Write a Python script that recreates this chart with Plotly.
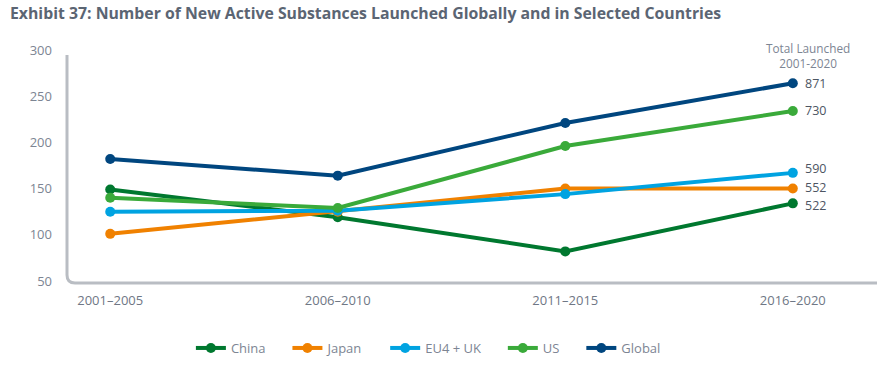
import plotly.graph_objects as go

periods = ["2001–2005", "2006–2010", "2011–2015", "2016–2020"]
series_names = ["China", "Japan", "EU4 + UK", "US", "Global"]
china = [149, 119, 82, 134]
japan = [101, 125, 150, 150]
eu4uk = [125, 126, 144, 167]
us = [140, 129, 196, 234]
global_ = [182, 164, 221, 264]
totals = ["522", "552", "590", "730", "871"]
colors = ["#00782f", "#f08100", "#00a3e1", "#3aaa3a", "#00467f"]

values = [china, japan, eu4uk, us, global_]
pad = "\u00a0" * 5

fig = go.Figure()
for name, vals, col in zip(series_names, values, colors):
    fig.add_trace(go.Scatter(
        x=list(range(len(periods))), y=vals, name=name + pad, mode="lines+markers",
        line=dict(color=col, width=4), marker=dict(color=col, size=10),
    ))

label_y_offsets = {"522": -2, "552": 1, "590": 4, "730": 0, "871": 0}
for name, vals, tot in zip(series_names, values, totals):
    fig.add_annotation(x=3, y=vals[-1], text=tot, showarrow=False, xanchor="left",
                       xshift=10, yshift=label_y_offsets[tot],
                       font=dict(family="Open Sans", size=12.5, color="#4d5562"))

fig.add_annotation(x=3.065, y=300, yref="y", text="Total Launched<br>2001-2020", showarrow=False,
                   xanchor="center", yanchor="middle", yshift=-5,
                   font=dict(family="Open Sans", size=11.8, color="#7d8593"))

fig.add_annotation(xref="paper", yref="paper", x=-59/810, y=1 + 37/233, xanchor="left",
                   yanchor="middle", showarrow=False,
                   text="<b>Exhibit 37: Number of New Active Substances Launched Globally and in Selected Countries</b>",
                   font=dict(family="Open Sans", size=15.8, color="#5b6573"))

fig.add_shape(type="path", xref="paper", yref="paper",
              path=f"M 0,{228/233} L 0,{8/233} Q 0,0 {8/810},0 L 1,0",
              line=dict(color="#b9bdc3", width=3))

fig.update_layout(
    width=888, height=365,
    margin=dict(l=67, r=11, t=50, b=82, autoexpand=False),
    plot_bgcolor="white", paper_bgcolor="white",
    showlegend=True,
    legend=dict(orientation="h", xref="container", yref="container",
                x=0.492, xanchor="center", y=1 - 348/365, yanchor="middle",
                font=dict(family="Open Sans", size=13, color="#7d8593"), itemwidth=30,
                traceorder="normal"),
    xaxis=dict(range=[-0.19, 3.37], tickvals=list(range(len(periods))), ticktext=periods,
               showgrid=False, zeroline=False, showline=False, ticklabelstandoff=8,
               automargin=False,
               tickfont=dict(family="Open Sans", size=13, color="#6f7785")),
    yaxis=dict(range=[47.8, 300], tickvals=[50, 100, 150, 200, 250, 300],
               showgrid=False, zeroline=False, showline=False, ticklabelstandoff=14,
               automargin=False,
               tickfont=dict(family="Open Sans", size=13, color="#7d8593")),
)

fig.write_html("out.html", config={"displayModeBar": False},
               post_script="document.body.style.margin='0px';")
